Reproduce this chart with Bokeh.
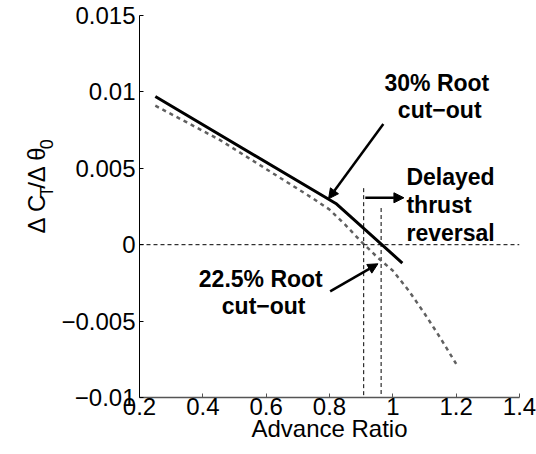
import math
from bokeh.plotting import figure
from bokeh.layouts import row
from bokeh.models import Range1d, FixedTicker, Span, Label, Arrow, NormalHead
from bokeh.core.properties import value
from bokeh.embed import file_html
from bokeh.resources import INLINE

# ---- data ----
x_30 = [0.25, 0.82, 1.03]
ct_30 = [0.0097, 0.0027, -0.0012]

x_225 = [0.25, 0.35, 0.45, 0.55, 0.65, 0.75, 0.80, 0.85, 0.90, 0.95, 1.00, 1.05, 1.10, 1.15, 1.20]
ct_225 = [0.0091, 0.0080, 0.0069, 0.0056, 0.0043, 0.0030, 0.0023, 0.0013, 0.0002, -0.0008,
          -0.0017, -0.0030, -0.0045, -0.0061, -0.0078]

reversal_x = [0.908, 0.963]
reversal_top = [0.0037, 0.0024]

x_ticks = [0.2, 0.4, 0.6, 0.8, 1.0, 1.2, 1.4]
x_tick_labels = ["0.2", "0.4", "0.6", "0.8", "1", "1.2", "1.4"]
y_ticks = [-0.01, -0.005, 0, 0.005, 0.01, 0.015]
y_tick_labels = ["\u22120.01", "\u22120.005", "0", "0.005", "0.01", "0.015"]

ylabel_parts = ["\u0394 C", "T", "/\u0394 \u03b8", "0"]
ylabel_sizes = ["24px", "18px", "24px", "18px"]

FONT = "Liberation Sans"
W, H = 536, 454
SIDE = 58

p = figure(width=W - SIDE, height=H, x_range=Range1d(0.2, 1.4), y_range=Range1d(-0.01, 0.015),
           output_backend="svg", toolbar_location=None,
           min_border_left=133 - SIDE, min_border_right=17, min_border_top=15, min_border_bottom=57)
p.outline_line_color = None
p.grid.visible = False
p.background_fill_color = "white"

# axes
p.xaxis.ticker = FixedTicker(ticks=x_ticks)
p.xaxis.major_label_overrides = dict(zip(x_ticks, x_tick_labels))
p.yaxis.ticker = FixedTicker(ticks=y_ticks)
p.yaxis.major_label_overrides = dict(zip(y_ticks, y_tick_labels))
for ax in (p.xaxis, p.yaxis):
    ax.major_tick_in = 4
    ax.major_tick_out = 0
    ax.minor_tick_line_color = None
    ax.major_label_text_font = FONT
    ax.major_label_text_font_size = "24px"
    ax.major_label_text_color = "black"
p.xaxis.axis_line_color = "#555555"
p.xaxis.axis_line_width = 1.5
p.xaxis.major_tick_line_color = "#555555"
p.xaxis.major_label_standoff = 0
p.xaxis.axis_label = "Advance Ratio"
p.xaxis.axis_label_text_font = FONT
p.xaxis.axis_label_text_font_size = "24px"
p.xaxis.axis_label_text_font_style = "normal"
p.xaxis.axis_label_text_color = "black"
p.xaxis.axis_label_standoff = -3
p.yaxis.axis_line_color = "black"
p.yaxis.major_tick_line_color = "black"
p.yaxis.major_label_standoff = 4

# zero line and reversal markers
p.add_layout(Span(location=0, dimension="width", line_color="black", line_width=1, line_dash="4 3"))
p.segment(x0=reversal_x, y0=reversal_top, x1=reversal_x, y1=[-0.01] * len(reversal_x),
          line_color="black", line_width=1, line_dash="4 3")

# curves
p.line(x_225, ct_225, line_color="#606060", line_width=2.5, line_dash="4 4")
p.line(x_30, ct_30, line_color="black", line_width=3)

# arrows
for xs, ys, xe, ye in [(0.970, 0.0079, 0.797, 0.0030),
                       (0.802, -0.00306, 0.953, -0.00125),
                       (0.913, 0.00307, 1.035, 0.00307)]:
    p.add_layout(Arrow(end=NormalHead(size=10, fill_color="black", line_color="black", line_width=1),
                       x_start=xs, y_start=ys, x_end=xe, y_end=ye,
                       line_color="black", line_width=2.5))

def lab(text, x, y, align="center"):
    p.add_layout(Label(x=x, y=y, text=text, text_font=FONT, text_font_size="23px",
                       text_font_style="bold", text_align=align,
                       text_baseline="alphabetic", text_color="black"))

lab("30% Root", 1.139, 0.01061)
lab("cut\u2212out", 1.148, 0.00880)
lab("Delayed", 1.043, 0.00440, align="left")
lab("thrust", 1.043, 0.00260, align="left")
lab("reversal", 1.043, 0.00079, align="left")
lab("22.5% Root", 0.583, -0.00222)
lab("cut\u2212out", 0.592, -0.00403)

# side strip holding the rotated y-axis label (pixel coordinates, y measured upward)
side = figure(width=SIDE, height=H, x_range=Range1d(0, SIDE), y_range=Range1d(0, H),
              output_backend="svg", toolbar_location=None,
              x_axis_location=None, y_axis_location=None, min_border=0)
side.outline_line_color = None
side.grid.visible = False
lx = [36, 46, 36, 46]
ly = [H - 259, H - 216, H - 206, H - 159]
for t, s, x, y in zip(ylabel_parts, ylabel_sizes, lx, ly):
    side.text(x=[x], y=[y], text=[t], angle=math.pi / 2, text_font=value(FONT),
              text_font_size=value(s), text_align="left", text_baseline="alphabetic",
              text_color="black")

layout = row(side, p)
open("out.html", "w").write(file_html(layout, INLINE))
